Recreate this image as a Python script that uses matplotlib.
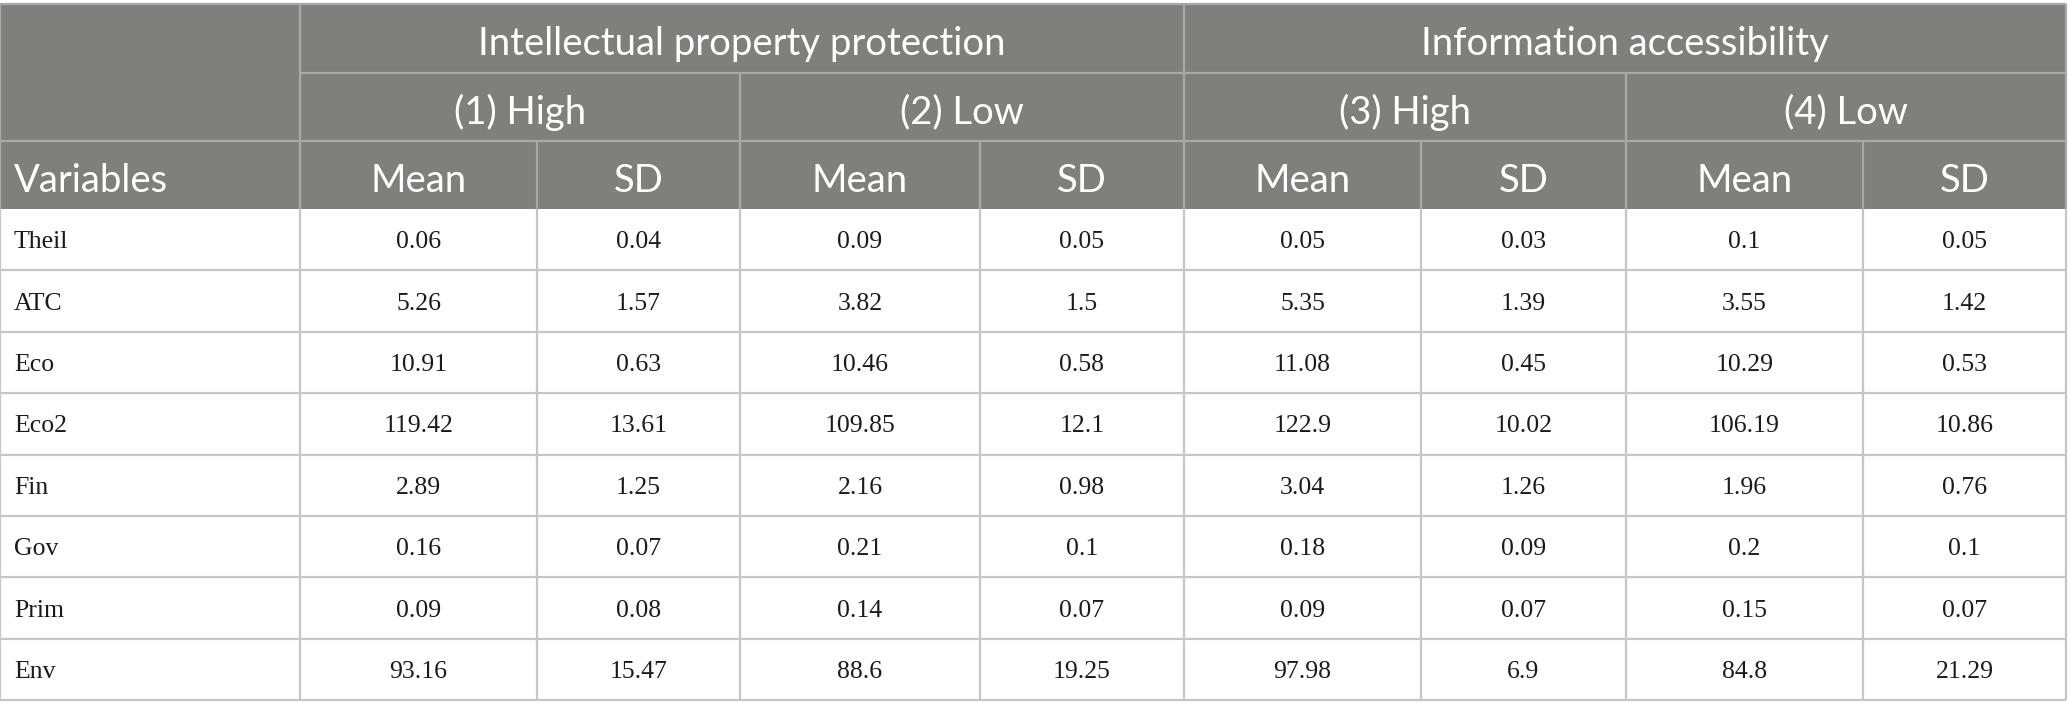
import matplotlib
matplotlib.use("Agg")
import matplotlib.pyplot as plt
from matplotlib.patches import Rectangle

# table content
groups = ["Intellectual property protection", "Information accessibility"]
subgroups = ["(1) High", "(2) Low", "(3) High", "(4) Low"]
stat_labels = ["Mean", "SD"]
variables = ["Theil", "ATC", "Eco", "Eco2", "Fin", "Gov", "Prim", "Env"]

high_ipp_mean = ["0.06", "5.26", "10.91", "119.42", "2.89", "0.16", "0.09", "93.16"]
high_ipp_sd = ["0.04", "1.57", "0.63", "13.61", "1.25", "0.07", "0.08", "15.47"]
low_ipp_mean = ["0.09", "3.82", "10.46", "109.85", "2.16", "0.21", "0.14", "88.6"]
low_ipp_sd = ["0.05", "1.5", "0.58", "12.1", "0.98", "0.1", "0.07", "19.25"]
high_ia_mean = ["0.05", "5.35", "11.08", "122.9", "3.04", "0.18", "0.09", "97.98"]
high_ia_sd = ["0.03", "1.39", "0.45", "10.02", "1.26", "0.09", "0.07", "6.9"]
low_ia_mean = ["0.1", "3.55", "10.29", "106.19", "1.96", "0.2", "0.15", "84.8"]
low_ia_sd = ["0.05", "1.42", "0.53", "10.86", "0.76", "0.1", "0.07", "21.29"]

columns = [high_ipp_mean, high_ipp_sd, low_ipp_mean, low_ipp_sd,
           high_ia_mean, high_ia_sd, low_ia_mean, low_ia_sd]

# layout in pixels
W, H = 2068, 719
col_x = [0, 300, 537, 740, 980, 1184, 1421, 1626, 1863, 2066]
head_y = [4, 73, 141, 209]
row_h = 61.4
body_y = [209 + i * row_h for i in range(len(variables) + 1)]

HEAD_BG = "#7f807e"
HEAD_LINE = "#a9a9a9"
BODY_LINE = "#c6c6c6"
HEAD_FONT = "Lato"
BODY_FONT = "Liberation Serif"

fig = plt.figure(figsize=(W / 100, H / 100), dpi=100)
ax = fig.add_axes([0, 0, 1, 1])
ax.set_xlim(0, W)
ax.set_ylim(H, 0)
ax.axis("off")

# header background
ax.add_patch(Rectangle((col_x[0], head_y[0]), col_x[-1] - col_x[0], head_y[-1] - head_y[0],
                       facecolor=HEAD_BG, edgecolor="none"))

def hline(y, x0, x1, c):
    ax.plot([x0, x1], [y, y], color=c, lw=1.6, solid_capstyle="butt")

def vline(x, y0, y1, c):
    ax.plot([x, x], [y0, y1], color=c, lw=1.6, solid_capstyle="butt")

# header lines
hline(head_y[0], col_x[0], col_x[-1], HEAD_LINE)
hline(head_y[1], col_x[1], col_x[-1], HEAD_LINE)
hline(head_y[2], col_x[0], col_x[-1], HEAD_LINE)
vline(col_x[1], head_y[0], head_y[3], HEAD_LINE)
vline(col_x[5], head_y[0], head_y[3], HEAD_LINE)
for i in (3, 7):
    vline(col_x[i], head_y[1], head_y[3], HEAD_LINE)
for i in (2, 4, 6, 8):
    vline(col_x[i], head_y[2], head_y[3], HEAD_LINE)
vline(col_x[0], head_y[0], head_y[3], HEAD_LINE)
vline(col_x[-1], head_y[0], head_y[3], HEAD_LINE)

# header text
hs = 27.5
for g, name in enumerate(groups):
    xc = (col_x[1 + 4 * g] + col_x[5 + 4 * g]) / 2
    ax.text(xc, (head_y[0] + head_y[1]) / 2 + 2, name, ha="center", va="center_baseline",
            color="white", fontsize=hs, family=HEAD_FONT)
for s, name in enumerate(subgroups):
    xc = (col_x[1 + 2 * s] + col_x[3 + 2 * s]) / 2
    ax.text(xc, (head_y[1] + head_y[2]) / 2 + 2, name, ha="center", va="center_baseline",
            color="white", fontsize=hs, family=HEAD_FONT)
ax.text(col_x[0] + 14, (head_y[2] + head_y[3]) / 2 + 2, "Variables", ha="left", va="center_baseline",
        color="white", fontsize=hs, family=HEAD_FONT)
for c in range(8):
    xc = (col_x[1 + c] + col_x[2 + c]) / 2
    ax.text(xc, (head_y[2] + head_y[3]) / 2 + 2, stat_labels[c % 2], ha="center", va="center_baseline",
            color="white", fontsize=hs, family=HEAD_FONT)

# body grid
for y in body_y[1:]:
    hline(y, col_x[0], col_x[-1], BODY_LINE)
for x in col_x:
    vline(x, body_y[0], body_y[-1], BODY_LINE)

# body text
bs = 18.5
for r, var in enumerate(variables):
    yc = (body_y[r] + body_y[r + 1]) / 2
    ax.text(col_x[0] + 14, yc, var, ha="left", va="center_baseline",
            color="#1a1a1a", fontsize=bs, family=BODY_FONT)
    for c, col in enumerate(columns):
        xc = (col_x[1 + c] + col_x[2 + c]) / 2
        ax.text(xc, yc, col[r], ha="center", va="center_baseline",
                color="#1a1a1a", fontsize=bs, family=BODY_FONT)

fig.savefig("out.png", dpi=100, facecolor="white")
